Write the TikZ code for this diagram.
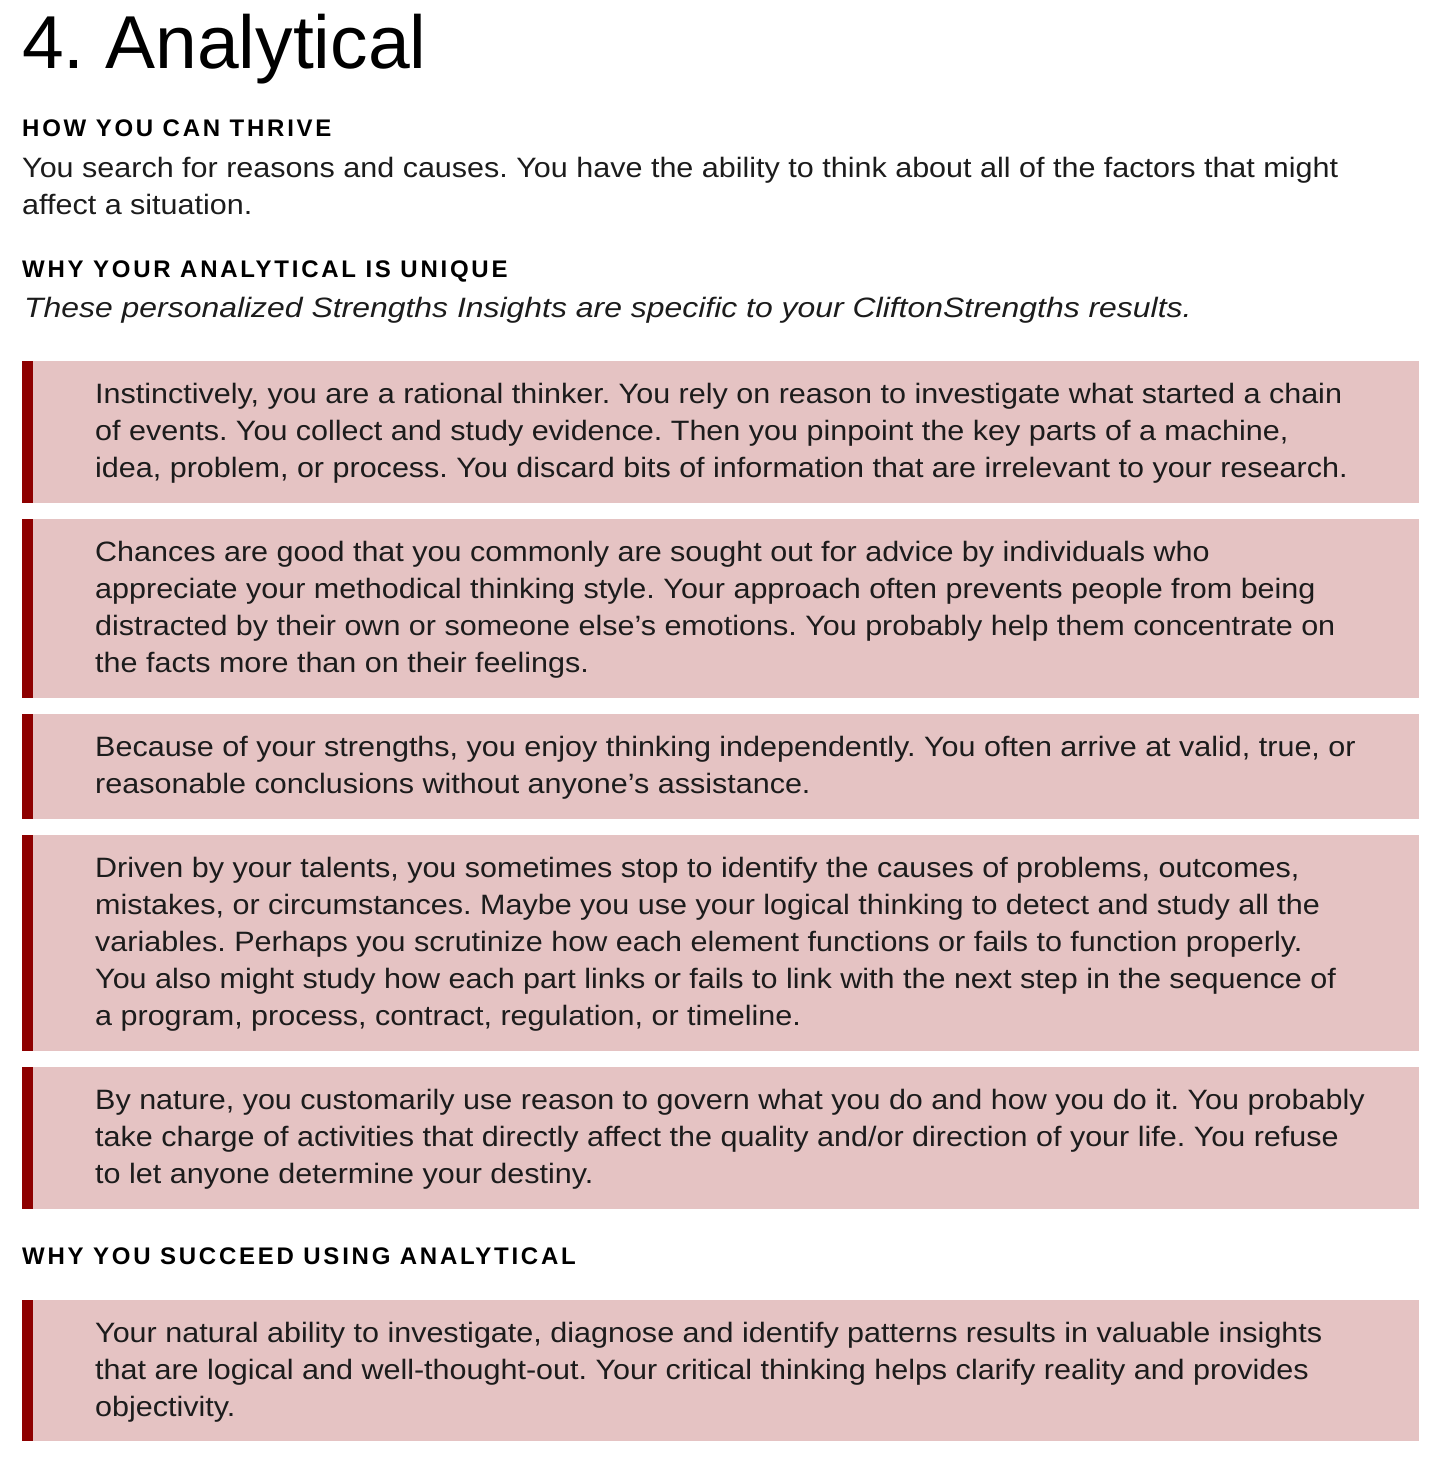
\documentclass[tikz,border=0pt]{standalone}
\usepackage{fontspec}
\setmainfont{Liberation Sans}[FakeStretch=1.09]
\newfontfamily\plainsans{Liberation Sans}
\newfontfamily\notefont{Liberation Sans}[FakeStretch=1.14]
\usepackage{xcolor}
\definecolor{boxpink}{HTML}{E5C3C3}
\definecolor{barred}{HTML}{8E0000}
\definecolor{ink}{HTML}{1C1C1C}
\frenchspacing

\tikzset{
  body/.style={anchor=base west, inner sep=0pt, align=left, text=ink,
    font=\fontsize{28}{37}\selectfont},
  head/.style={anchor=base west, inner sep=0pt, text=black,
    font=\plainsans\fontsize{24}{30}\selectfont\bfseries\addfontfeatures{LetterSpace=11.5}},
  pink/.style={fill=boxpink},
  bar/.style={fill=barred}
}
\newcommand{\insightbox}[2]{%
  \fill[pink] (22,#1) rectangle (1419,#2);
  \fill[bar] (22,#1) rectangle (33,#2);}

\begin{document}
\begin{tikzpicture}[x=1pt,y=-1pt]
  \useasboundingbox (0,0) rectangle (1436,1460);

  \draw (22,68) node[anchor=base west,inner sep=0pt,font=\plainsans\fontsize{75}{80}\selectfont] (title) {4. Analytical};

  \draw (22,136) node[head] (thrive) {HOW YOU CAN THRIVE};
  % multi-line nodes sit on their last baseline
  \draw (22,214) node[body] (intro) {You search for reasons and causes. You have the ability to think about all of the factors that might\\affect a situation.};

  \draw (22,277) node[head] (unique) {WHY YOUR ANALYTICAL IS UNIQUE};
  \draw (24,317) node[body,font=\notefont\fontsize{28}{37}\selectfont\itshape] (note) {These personalized Strengths Insights are specific to your CliftonStrengths results.};

  % insights
  \insightbox{361}{503}
  \draw (95,477) node[body] (reason) {Instinctively, you are a rational thinker. You rely on reason to investigate what started a chain\\of events. You collect and study evidence. Then you pinpoint the key parts of a machine,\\idea, problem, or process. You discard bits of information that are irrelevant to your research.};

  \insightbox{519}{698}
  \draw (95,672) node[body] (advice) {Chances are good that you commonly are sought out for advice by individuals who\\appreciate your methodical thinking style. Your approach often prevents people from being\\distracted by their own or someone else’s emotions. You probably help them concentrate on\\the facts more than on their feelings.};

  \insightbox{714}{819}
  \draw (95,793) node[body] (alone) {Because of your strengths, you enjoy thinking independently. You often arrive at valid, true, or\\reasonable conclusions without anyone’s assistance.};

  \insightbox{835}{1051}
  \draw (95,1025) node[body] (causes) {Driven by your talents, you sometimes stop to identify the causes of problems, outcomes,\\mistakes, or circumstances. Maybe you use your logical thinking to detect and study all the\\variables. Perhaps you scrutinize how each element functions or fails to function properly.\\You also might study how each part links or fails to link with the next step in the sequence of\\a program, process, contract, regulation, or timeline.};

  \insightbox{1067}{1209}
  \draw (95,1183) node[body] (destiny) {By nature, you customarily use reason to govern what you do and how you do it. You probably\\take charge of activities that directly affect the quality and/or direction of your life. You refuse\\to let anyone determine your destiny.};

  \draw (22,1264) node[head] (succeed) {WHY YOU SUCCEED USING ANALYTICAL};

  \insightbox{1300}{1441}
  \draw (95,1416) node[body] (insight) {Your natural ability to investigate, diagnose and identify patterns results in valuable insights\\that are logical and well-thought-out. Your critical thinking helps clarify reality and provides\\objectivity.};
\end{tikzpicture}
\end{document}
